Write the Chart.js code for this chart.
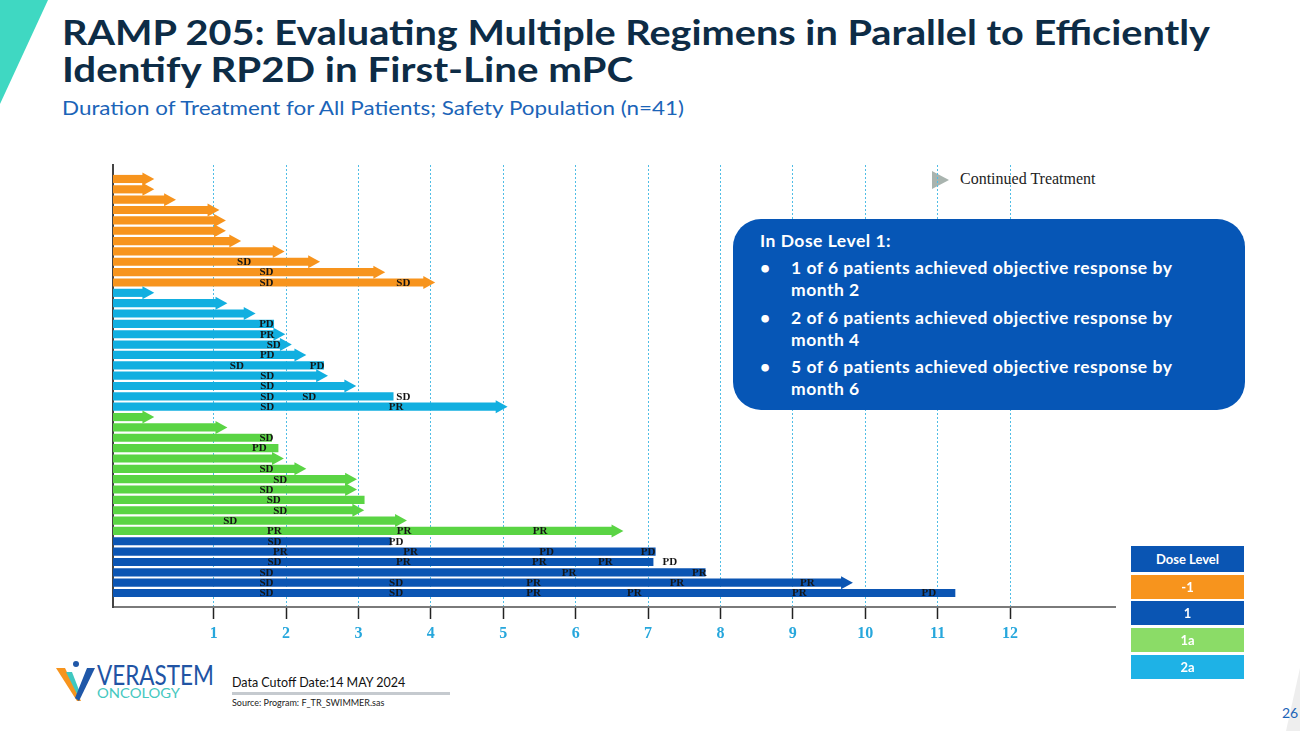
<!DOCTYPE html>
<html>
<head>
<meta charset="utf-8">
<script src="https://cdn.jsdelivr.net/npm/chart.js@4.4.1/dist/chart.umd.min.js"></script>
<style>
  html, body { margin:0; padding:0; background:#fff; width:1300px; height:731px; overflow:hidden; }
  body { position:relative; font-family: Lato, "Open Sans", sans-serif; }
  .abs { position:absolute; }
  #deco { left:0; top:0; width:1300px; height:731px; }
  #chartwrap { left:100px; top:150px; width:1040px; height:500px; }
  #callout { left:733px; top:219px; width:512px; height:191px; background:#0656b6; border-radius:28px; color:#fff; box-sizing:border-box; padding:11px 0 0 27px; font:700 17.5px Lato, sans-serif; letter-spacing:0.5px; }
  #callout .hd { line-height:22px; margin-bottom:5px; }
  #callout .it { position:relative; padding-left:31px; line-height:22px; margin-bottom:5.5px; width:410px; }
  #callout .it::before { content:"•"; position:absolute; left:0; top:0; }
  .dl { left:1131px; width:113px; color:#fff; font:700 13px Lato, sans-serif; text-align:center; }
  #legendCT { left:960px; top:170px; font:16px "Liberation Serif", "Times New Roman", serif; color:#222; }
  #cutoff { left:232px; top:675px; font:12.5px Lato, sans-serif; color:#111; }
  #cutbar { left:232px; top:692px; width:218px; height:3px; background:#c5cacf; }
  #source { left:232px; top:697px; font:9px Lato, sans-serif; color:#222; }
  #pagenum { left:1282px; top:704px; font:14px Lato, sans-serif; color:#1b64b8; }
</style>
</head>
<body>
<svg id="deco" class="abs" viewBox="0 0 1300 731">
  <polygon points="0,0 48,0 0,104" fill="#3fd8c2"/>
  <polygon points="1286,731 1300,668 1300,731" fill="#eeeeee"/>
  <text x="62" y="45" font-family="Lato" font-weight="700" font-size="34" fill="#0d2c46" textLength="1148" lengthAdjust="spacingAndGlyphs">RAMP 205: Evaluating Multiple Regimens in Parallel to Efficiently</text>
  <text x="62" y="82" font-family="Lato" font-weight="700" font-size="34" fill="#0d2c46" textLength="571" lengthAdjust="spacingAndGlyphs">Identify RP2D in First-Line mPC</text>
  <text x="62" y="115" font-family="Lato" font-size="20" fill="#1b64b8" textLength="622" lengthAdjust="spacingAndGlyphs">Duration of Treatment for All Patients; Safety Population (n=41)</text>
  <polygon points="932,171 949,180 932,189" fill="#a9b4af"/>
  <!-- logo -->
  <polygon points="56,668 65,668 81,701 77,701" fill="#f7941d"/>
  <polygon points="66,672 72,672 79,690 77,694" fill="#3fc8c0"/>
  <polygon points="95,668 87,668 75,698 79,701" fill="#1f57a8"/>
  <circle cx="76" cy="664" r="3" fill="#1f57a8"/>
  <text x="97" y="685" font-family="Lato" font-size="27" fill="#2154a4" textLength="117" lengthAdjust="spacingAndGlyphs">VERASTEM</text>
  <text x="97" y="698" font-family="Lato" font-size="13" fill="#45c8c0" textLength="83" lengthAdjust="spacingAndGlyphs">ONCOLOGY</text>
</svg>

<div id="legendCT" class="abs">Continued Treatment</div>

<div id="chartwrap" class="abs"><canvas id="c" width="1040" height="500"></canvas></div>

<div id="callout" class="abs">
  <div class="hd">In Dose Level 1:</div>
  <div class="it">1 of 6 patients achieved objective response by month 2</div>
  <div class="it">2 of 6 patients achieved objective response by month 4</div>
  <div class="it">5 of 6 patients achieved objective response by month 6</div>
</div>

<div class="abs dl" style="top:546px;height:26px;line-height:26px;background:#0a55b3;">Dose Level</div>
<div class="abs dl" style="top:575px;height:24px;line-height:24px;background:#f7941d;">-1</div>
<div class="abs dl" style="top:601px;height:24px;line-height:24px;background:#0a55b3;">1</div>
<div class="abs dl" style="top:628px;height:24px;line-height:24px;background:#8bdc67;">1a</div>
<div class="abs dl" style="top:655px;height:24px;line-height:24px;background:#1eb2e6;">2a</div>

<div id="cutoff" class="abs">Data Cutoff Date:14 MAY 2024</div>
<div id="cutbar" class="abs"></div>
<div id="source" class="abs">Source: Program: F_TR_SWIMMER.sas</div>
<div id="pagenum" class="abs">26</div>

<script>
// ---------- DATA ----------
const X_MIN = -0.39;
const X_MAX = 13.45;
const tickValues = [1, 2, 3, 4, 5, 6, 7, 8, 9, 10, 11, 12];

const doseLevel = [
  '-1','-1','-1','-1','-1','-1','-1','-1','-1','-1','-1',
  '2a','2a','2a','2a','2a','2a','2a','2a','2a','2a','2a','2a',
  '1a','1a','1a','1a','1a','1a','1a','1a','1a','1a','1a','1a',
  '1','1','1','1','1','1'
];

// months on treatment (end of bar / arrow tip)
const durations = [
  0.18, 0.18, 0.48, 1.08, 1.17, 1.17, 1.38, 1.98, 2.47, 3.37, 4.06,
  0.18, 1.19, 1.58, 1.83, 1.99, 2.08, 2.28, 2.52, 2.58, 2.97, 3.48, 5.06,
  0.18, 1.19, 1.80, 1.89, 1.97, 2.28, 2.98, 2.98, 3.08, 3.08, 3.67, 6.66,
  3.45, 7.10, 7.07, 7.79, 9.83, 11.24
];

// 1 = continued treatment (arrow)
const continued = [
  1,1,1,1,1,1,1,1,1,1,1,
  1,1,1,0,1,1,1,0,1,1,0,1,
  1,1,0,0,1,1,1,1,0,1,1,1,
  0,0,0,0,1,0
];

// response assessment times (months) and codes per patient
const respTimes = [
  [],[],[],[],[],[],[],[],[1.42],[1.73],[1.73,3.62],
  [],[],[],[1.73],[1.74],[1.83],[1.74],[1.32,2.43],[1.74],[1.74],[1.74,2.32,3.62],[1.74,3.52],
  [],[],[1.73],[1.63],[],[1.73],[1.92],[1.73],[1.83],[1.92],[1.23],[1.84,3.63,5.51],
  [1.84,3.52],[1.92,3.72,5.60,7.00],[1.84,3.62,5.50,6.41,7.30],[1.73,5.91,7.71],
  [1.73,3.52,5.42,7.40,9.20],[1.73,3.52,5.42,6.81,9.09,10.88]
];
const respCodes = [
  [],[],[],[],[],[],[],[],['SD'],['SD'],['SD','SD'],
  [],[],[],['PD'],['PR'],['SD'],['PD'],['SD','PD'],['SD'],['SD'],['SD','SD','SD'],['SD','PR'],
  [],[],['SD'],['PD'],[],['SD'],['SD'],['SD'],['SD'],['SD'],['SD'],['PR','PR','PR'],
  ['SD','PD'],['PR','PR','PD','PD'],['SD','PR','PR','PR','PD'],['SD','PR','PR'],
  ['SD','SD','PR','PR','PR'],['SD','SD','PR','PR','PR','PD']
];

const doseColors = { '-1':'#f7941d', '2a':'#12afe0', '1a':'#5ad444', '1':'#0b55b3' };

// ---------- CHART ----------
const ARROW_MONTHS = 0.15;   // arrowhead length (style)
const rowColors = doseLevel.map(l => doseColors[l]);

const swimmerPlugin = {
  id: 'swimmer',
  afterDatasetsDraw(chart) {
    const ctx = chart.ctx;
    const xs = chart.scales.x;
    const meta = chart.getDatasetMeta(0);
    ctx.save();
    meta.data.forEach((bar, i) => {
      if (!continued[i]) return;
      const tip = xs.getPixelForValue(durations[i]);
      const base = Math.max(bar.x, bar.base) - 1;
      ctx.fillStyle = rowColors[i];
      ctx.beginPath();
      ctx.moveTo(base, bar.y - 6.5);
      ctx.lineTo(tip, bar.y);
      ctx.lineTo(base, bar.y + 6.5);
      ctx.closePath();
      ctx.fill();
    });
    ctx.font = 'bold 11px "Liberation Serif", "Times New Roman", serif';
    ctx.textAlign = 'center';
    ctx.textBaseline = 'middle';
    ctx.fillStyle = '#151515';
    meta.data.forEach((bar, i) => {
      respTimes[i].forEach((t, k) => {
        ctx.fillText(respCodes[i][k], xs.getPixelForValue(t), bar.y + 0.5);
      });
    });
    ctx.restore();
  }
};

new Chart(document.getElementById('c'), {
  type: 'bar',
  data: {
    datasets: [{
      data: durations.map((d, i) => ({ x: [X_MIN, continued[i] ? d - ARROW_MONTHS : d], y: i + 1 })),
      backgroundColor: rowColors,
      borderWidth: 0,
      barThickness: 7.5
    }]
  },
  options: {
    indexAxis: 'y',
    responsive: false,
    animation: false,
    layout: { padding: { top: 15, left: 13, right: 25, bottom: 0 } },
    plugins: { legend: { display: false }, tooltip: { enabled: false } },
    scales: {
      x: {
        type: 'linear', min: X_MIN, max: X_MAX,
        afterBuildTicks: s => { s.ticks = tickValues.map(v => ({ value: v })); },
        afterFit: s => { s.height = 43; },
        grid: { color: '#4fbde6', lineWidth: 1, drawTicks: true, tickLength: 12, tickColor: '#222', tickWidth: 1.5, tickBorderDash: [] },
        border: { display: true, color: '#7a7a7a', width: 2, dash: [2, 2] },
        ticks: { color: '#27a7dc', font: { family: '"Liberation Serif", serif', weight: 'bold', size: 16 }, padding: 5, autoSkip: false, maxRotation: 0 }
      },
      y: {
        type: 'linear', reverse: true, min: -0.35, max: 42.35, offset: false,
        afterFit: s => { s.width = 0; },
        grid: { display: false, drawTicks: false, offset: false },
        ticks: { display: false },
        border: { display: true, color: '#444', width: 2 },
        z: 1
      }
    }
  },
  plugins: [swimmerPlugin]
});
</script>
</body>
</html>
